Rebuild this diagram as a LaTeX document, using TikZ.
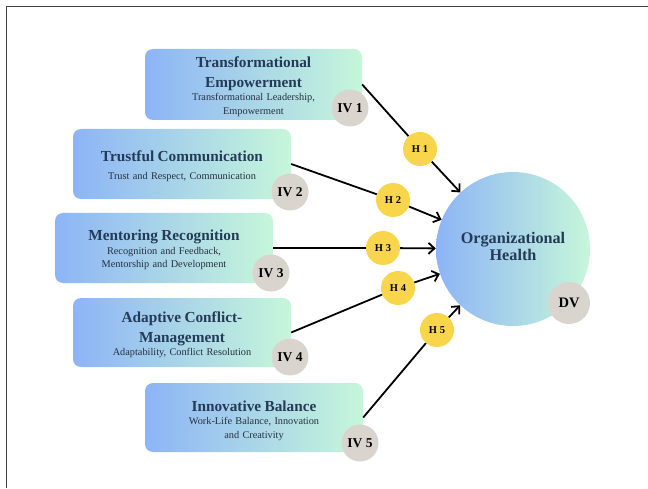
\documentclass[tikz,border=0pt]{standalone}
\usepackage{fontspec}
\setmainfont{Liberation Serif}
\usetikzlibrary{arrows.meta}
\definecolor{bleft}{HTML}{8DB4F6}
\definecolor{bright}{HTML}{C6F7DA}
\definecolor{titlec}{HTML}{243B57}
\definecolor{subc}{HTML}{263040}
\definecolor{ivc}{HTML}{D9D4CE}
\definecolor{hc}{HTML}{F8D54B}
\definecolor{framec}{HTML}{444444}
\tikzset{
 ivbox/.style={rounded corners=8pt, left color=bleft, right color=bright, minimum width=218pt, minimum height=70pt, inner sep=0pt},
 boxtext/.style={text width=214pt, align=center, inner sep=0pt},
 ivcirc/.style={circle, fill=ivc, minimum size=37pt, inner sep=0pt, font=\fontsize{13.5}{15}\selectfont\bfseries},
 hcirc/.style={circle, fill=hc, minimum size=34pt, inner sep=0pt, font=\fontsize{10.5}{12}\selectfont\bfseries},
 link/.style={line width=1.8pt, black},
 arr/.style={link, -{Straight Barb[length=6pt,width=11pt]}},
}
\newcommand{\ttltxt}[1]{{\fontsize{15.3}{20}\selectfont\bfseries\color{titlec}#1\par}}
\newcommand{\subtxt}[1]{{\fontsize{10.3}{13.5}\selectfont\color{subc}#1\par}}
\begin{document}
\begin{tikzpicture}[x=1pt,y=1pt]
\useasboundingbox (0,0) rectangle (648,488);
\draw[line width=1.5pt, framec] (6.5,0) -- (6.5,481.5) -- (648,481.5);
% boxes
\node[ivbox, minimum width=217pt, minimum height=71pt] (b1) at (253.5,403.5) {};
\node[ivbox] (b2) at (182,324) {};
\node[ivbox] (b3) at (164,240) {};
\node[ivbox, minimum height=69pt] (b4) at (182,155.5) {};
\node[ivbox, minimum height=69pt] (b5) at (254,70.5) {};
% texts
\node[boxtext] (t1) at ([yshift=-2pt]b1.center) {\ttltxt{Transformational\\Empowerment}\subtxt{Transformational Leadership,\\Empowerment}};
\node[boxtext] (t2) at ([yshift=-2pt]b2.center) {\ttltxt{Trustful Communication}\vspace{5pt}\subtxt{Trust and Respect, Communication}};
\node[boxtext] (t3) at ([yshift=-2pt]b3.center) {\ttltxt{Mentoring Recognition}\subtxt{Recognition and Feedback,\\Mentorship and Development}};
\node[boxtext] (t4) at ([yshift=-2pt]b4.center) {\ttltxt{Adaptive Conflict-\\Management}\subtxt{Adaptability, Conflict Resolution}};
\node[boxtext] (t5) at ([yshift=-3pt]b5.center) {\ttltxt{Innovative Balance}\subtxt{Work-Life Balance, Innovation\\and Creativity}};
% dependent variable
\node[circle, left color=bleft, right color=bright, minimum size=154pt, inner sep=0pt] (og) at (513,239) {};
\node[align=center, font=\fontsize{16.2}{17}\selectfont\bfseries, text=titlec] (ogt) at (513,242) {Organizational\\Health};
% hypothesis circles
\node[hcirc] (h1) at (420,339) {H 1};
\node[hcirc] (h2) at (393,288) {H 2};
\node[hcirc] (h3) at (383,240) {H 3};
\node[hcirc] (h4) at (398,200) {H 4};
\node[hcirc] (h5) at (437,158) {H 5};
% connectors
\draw[link] (b1.east) -- (h1);
\draw[link] (b2.east) -- (h2);
\draw[link] (b3.east) -- (h3);
\draw[link] (b4.east) -- (h4);
\draw[link] (b5.east) -- (h5);
\draw[arr] (h1) -- (og);
\draw[arr] (h2) -- (og);
\draw[arr] (h3) -- (og);
\draw[arr] (h4) -- (og);
\draw[arr] (h5) -- (og);
% IV / DV labels
\node[ivcirc] (iv1) at (350,380) {IV 1};
\node[ivcirc] (iv2) at (290,296) {IV 2};
\node[ivcirc] (iv3) at (271,215) {IV 3};
\node[ivcirc] (iv4) at (290,131) {IV 4};
\node[ivcirc] (iv5) at (360,45) {IV 5};
\node[ivcirc, minimum size=42pt, font=\fontsize{14.5}{16}\selectfont\bfseries] (dv) at (569,185) {DV};
\end{tikzpicture}
\end{document}
